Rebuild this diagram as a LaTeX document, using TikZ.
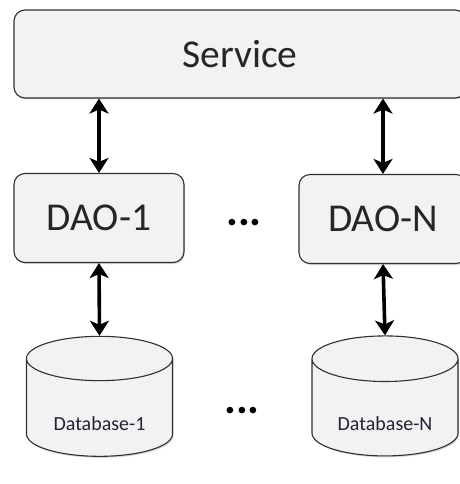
\documentclass[tikz,border=0pt]{standalone}
\usepackage{fontspec}
\setmainfont{Carlito}
\usepackage{xcolor}
\usepackage{tikz}
\usetikzlibrary{shapes.geometric, arrows.meta, shadows}
\definecolor{boxfill}{HTML}{F2F2F2}
\definecolor{boxline}{HTML}{303030}
\definecolor{dbtext}{HTML}{1F2333}
\tikzset{biarrow/.style={draw=black,line width=3.6pt,{Stealth[length=15pt,width=19pt,inset=4pt]}-{Stealth[length=15pt,width=19pt,inset=4pt]}}}
\tikzstyle{layer} = [draw=boxline,fill=boxfill,line width=1.1pt,rounded corners=11pt,
	drop shadow={opacity=0.3,shadow xshift=1.2pt,shadow yshift=-1.5pt},
	font=\fontsize{39.5}{42}\selectfont,text=black!85]
\tikzstyle{store} = [draw=boxline,fill=boxfill,line width=1.1pt,cylinder,shape border rotate=90,
	aspect=0.45,minimum width=146pt,minimum height=120pt,
	drop shadow={opacity=0.3,shadow xshift=1.2pt,shadow yshift=-1.5pt},
	font=\fontsize{20}{22}\selectfont,text=dbtext]
\tikzstyle{gap} = [font=\fontsize{44}{46}\selectfont\bfseries,inner sep=0pt]
% label set lower in the cylinder body
\newcommand{\dblabel}[1]{\raisebox{-19.5pt}[0pt][0pt]{#1}}

\begin{document}
\begin{tikzpicture}[x=1pt,y=-1pt]
	\useasboundingbox (0,0) rectangle (459,484);
	
	% Service on top:
	\node [layer,minimum width=452pt,minimum height=88pt] (service) at (240,54) {Service};
	
	% DAOs:
	\node [layer,minimum width=170pt,minimum height=89pt] (dao1) at (99,218) {DAO-1};
	\node [layer,minimum width=168pt,minimum height=89pt] (daon) at (383,219) {DAO-N};
	\node [gap] (dots1) at (244,223) {...};
	
	% Databases:
	\node [store] (db1) at (99.5,411) {\dblabel{Database-1}};
	\node [store] (dbn) at (385,411) {\dblabel{Database-N}};
	\node [gap] (dots2) at (242,411) {...};
	
	% Connections:
	\path [biarrow] (service.south -| dao1) -- (dao1.north);
	\path [biarrow] (service.south -| daon) -- (daon.north);
	\path [biarrow] (dao1.south) -- (db1.top);
	\path [biarrow] (daon.south) -- (dbn.top);
\end{tikzpicture}
\end{document}
